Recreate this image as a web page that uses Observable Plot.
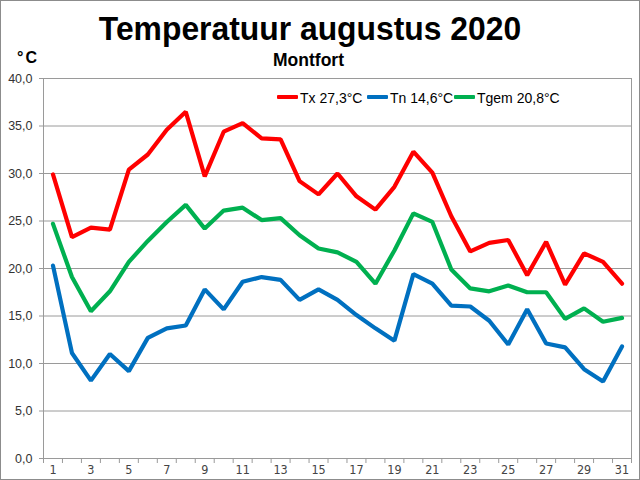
<!DOCTYPE html>
<html>
<head>
<meta charset="utf-8">
<script src="https://cdn.jsdelivr.net/npm/d3@7"></script>
<script src="https://cdn.jsdelivr.net/npm/@observablehq/plot@0.6"></script>
<style>
  html, body { margin: 0; padding: 0; background: #fff; }
  #wrap { position: relative; width: 640px; height: 480px; overflow: hidden; font-family: "Liberation Sans", Arial, sans-serif; }
  #wrap svg { position: absolute; left: 0; top: 0; }
  .abs { position: absolute; white-space: nowrap; line-height: 1; }
  #border { position: absolute; left: 0; top: 0; width: 640px; height: 480px; box-sizing: border-box; border: 1px solid #8c8c8c; pointer-events: none; }
  .leg { position: absolute; top: 91px; font-size: 14px; color: #000; white-space: nowrap; line-height: 14px; }
  .sw { display: inline-block; width: 21px; height: 4px; vertical-align: middle; margin-right: 2px; position: relative; top: -2px; border-radius: 1px; }
</style>
</head>
<body>
<div id="wrap"></div>
<script>
// ---- data ----
const days = [1,2,3,4,5,6,7,8,9,10,11,12,13,14,15,16,17,18,19,20,21,22,23,24,25,26,27,28,29,30,31];
const tx   = [29.9,23.3,24.3,24.1,30.4,32.0,34.6,36.5,29.7,34.4,35.3,33.7,33.6,29.2,27.8,30.0,27.6,26.2,28.6,32.3,30.1,25.5,21.8,22.7,23.0,19.3,22.8,18.3,21.6,20.7,18.4];
const tn   = [20.3,11.1,8.2,11.0,9.2,12.7,13.7,14.0,17.8,15.7,18.6,19.1,18.8,16.7,17.8,16.7,15.1,13.7,12.4,19.4,18.4,16.1,16.0,14.5,12.0,15.7,12.1,11.7,9.4,8.1,11.8];
const tgem = [24.7,19.1,15.5,17.6,20.7,22.9,24.9,26.7,24.2,26.1,26.4,25.1,25.3,23.5,22.1,21.7,20.7,18.4,21.9,25.8,24.9,19.9,17.9,17.6,18.2,17.5,17.5,14.7,15.8,14.4,14.8];
const seriesNames  = ["Tx 27,3°C", "Tn 14,6°C", "Tgem 20,8°C"];
const seriesColors = ["#ff0000", "#0070c0", "#00b050"];
const yTicks = [0,5,10,15,20,25,30,35,40];
const xLabelTicks = [1,3,5,7,9,11,13,15,17,19,21,23,25,27,29,31];
const title = "Temperatuur augustus 2020";
const subtitle = "Montfort";
const unit = "°C";

const rows = days.map((d, i) => ({day: d, tx: tx[i], tn: tn[i], tgem: tgem[i]}));
const boundaries = days.map(d => d - 0.5).concat([d3.max(days) + 0.5]);
const fmt = v => d3.format(".1f")(v).replace(".", ",");

const chart = Plot.plot({
  width: 640,
  height: 480,
  marginLeft: 43,
  marginRight: 9,
  marginTop: 78,
  marginBottom: 22,
  style: {fontFamily: "'Liberation Sans', Arial, sans-serif", background: "transparent"},
  x: {type: "linear", domain: [d3.min(days) - 0.5, d3.max(days) + 0.5]},
  y: {domain: [d3.min(yTicks), d3.max(yTicks)]},
  marks: [
    Plot.gridY(yTicks, {stroke: "#9a9a9a", strokeOpacity: 1, strokeWidth: 1}),
    Plot.frame({stroke: "#9a9a9a", strokeWidth: 1}),
    Plot.axisY(yTicks, {tickFormat: fmt, tickSize: 4, tickPadding: 7, fontSize: 12.5, stroke: "#9a9a9a", fill: "#333", label: null}),
    Plot.axisX(boundaries, {tickFormat: null, tickSize: 5, stroke: "#9a9a9a", label: null, text: null}),
    Plot.axisX(xLabelTicks, {tickSize: 0, tickPadding: 7, fontSize: 12.5, fill: "#444", label: null, fontFamily: "'Liberation Sans Narrow', 'DejaVu Sans Condensed', sans-serif"}),
    Plot.lineY(rows, {x: "day", y: "tx", stroke: seriesColors[0], strokeWidth: 4.2, strokeLinejoin: "miter"}),
    Plot.lineY(rows, {x: "day", y: "tn", stroke: seriesColors[1], strokeWidth: 4.2, strokeLinejoin: "miter"}),
    Plot.lineY(rows, {x: "day", y: "tgem", stroke: seriesColors[2], strokeWidth: 4.2, strokeLinejoin: "miter"})
  ]
});

const wrap = document.getElementById("wrap");
wrap.appendChild(chart);

function addText(txt, css) {
  const el = document.createElement("div");
  el.className = "abs";
  el.textContent = txt;
  Object.assign(el.style, css);
  wrap.appendChild(el);
  return el;
}
addText(title, {left: "0px", width: "620px", textAlign: "center", top: "12px", fontSize: "33px", fontWeight: "bold", transform: "scaleX(0.965)", transformOrigin: "310px 0"});
addText(subtitle, {left: "0px", width: "617px", textAlign: "center", top: "52px", fontSize: "17.5px", fontWeight: "bold"});
addText(unit, {left: "17px", top: "50px", fontSize: "16px", fontWeight: "bold", letterSpacing: "2px"});

const legLefts = [277, 367, 454];
seriesNames.forEach((name, i) => {
  const item = document.createElement("div");
  item.className = "leg";
  item.style.left = legLefts[i] + "px";
  const sw = document.createElement("span");
  sw.className = "sw";
  sw.style.background = seriesColors[i];
  item.appendChild(sw);
  item.appendChild(document.createTextNode(name));
  wrap.appendChild(item);
});

const border = document.createElement("div");
border.id = "border";
wrap.appendChild(border);
</script>
</body>
</html>
